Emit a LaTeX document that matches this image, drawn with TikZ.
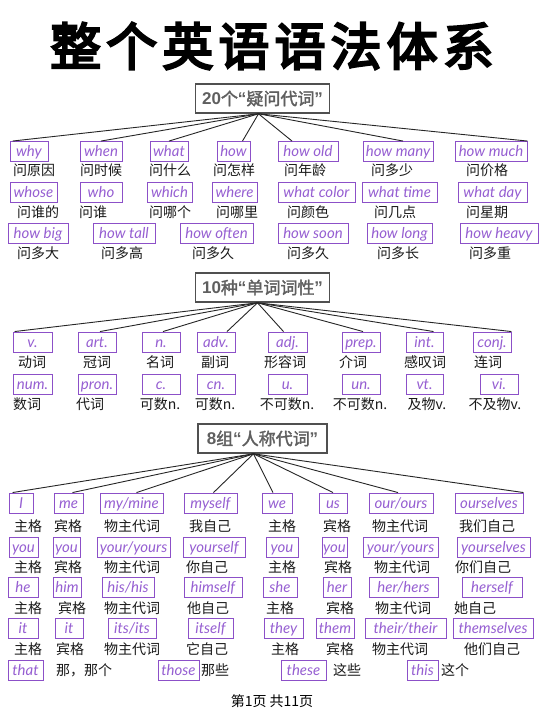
\documentclass[tikz,border=0pt]{standalone}
\usepackage{fontspec}
\newfontfamily\cjk{Noto Sans CJK SC}
\newfontfamily\cjkbold[FakeBold=4.5,LetterSpace=10]{Noto Sans CJK SC}
\newfontfamily\cjkmid[FakeBold=2]{Noto Sans CJK SC}
\newfontfamily\en{Lato}
\newfontfamily\latb{Liberation Sans}
\definecolor{boxpurple}{RGB}{140,80,200}
\definecolor{txtpurple}{RGB}{150,95,210}
\definecolor{secgray}{RGB}{80,80,80}
\definecolor{sectext}{RGB}{95,95,95}
\tikzset{
  wb/.style={draw=boxpurple, line width=0.9pt, text=txtpurple, font=\en\itshape\fontsize{15}{15}\selectfont, minimum height=20pt, inner sep=0pt, text height=11pt, text depth=1pt},
  lb/.style={font=\cjk\fontsize{14}{14}\selectfont, text=black!90, inner sep=0pt},
  sec/.style={draw=secgray, line width=1.6pt, fill=white, text=sectext, font=\cjkmid\fontsize{17}{17}\selectfont, minimum height=29pt, minimum width=134pt, inner sep=0pt},
  conn/.style={line width=0.9pt, draw=black!85},
}
\newcommand\wbx[5]{\node[wb, minimum width={#3-#2}] (#1) at ({(#2+#3)/2},#4) {#5};}
\newcommand\lbx[4]{\node[lb] (#1) at (#2,#3) {#4};}
\newcommand\myLQ{{\latb\bfseries “}}
\newcommand\myRQ{{\latb\bfseries ”}}
\begin{document}
\begin{tikzpicture}[x=1pt,y=-1pt]
\useasboundingbox[fill=white] (0,0) rectangle (540,719);
% title
\node[font=\cjkbold\fontsize{51}{51}\selectfont, inner sep=0pt] (title) at (272,46) {整个英语语法体系};

% ---------- section 1 ----------
\node[sec] (s1) at (262.5,98.5) {{\latb\bfseries 20}个\myLQ 疑问代词\myRQ};
\coordinate (h1) at ([xshift=-4pt]s1.south);
\wbx{why}{10}{48}{151.5}{why}
\wbx{when}{80}{122}{151.5}{when}
\wbx{what}{150}{188}{151.5}{what}
\wbx{how}{217}{250}{151.5}{how}
\wbx{howold}{278}{338}{151.5}{how old}
\wbx{howmany}{363}{433}{151.5}{how many}
\wbx{howmuch}{455}{527}{151.5}{how much}
\lbx{a1}{34}{170}{问原因}
\lbx{a2}{101}{170}{问时候}
\lbx{a3}{170}{170}{问什么}
\lbx{a4}{234}{170}{问怎样}
\lbx{a5}{305}{170}{问年龄}
\lbx{a6}{392}{170}{问多少}
\lbx{a7}{487}{170}{问价格}
\wbx{whose}{10}{57}{192}{whose}
\wbx{who}{80}{122}{192}{who}
\wbx{which}{147}{192}{192}{which}
\wbx{where}{212}{257}{192}{where}
\wbx{whatcolor}{278}{355}{192}{what color}
\wbx{whattime}{362}{437}{192}{what time}
\wbx{whatday}{458}{527}{192}{what day}
\lbx{b1}{38}{212}{问谁的}
\lbx{b2}{93}{212}{问谁}
\lbx{b3}{170}{212}{问哪个}
\lbx{b4}{237}{212}{问哪里}
\lbx{b5}{308}{212}{问颜色}
\lbx{b6}{395}{212}{问几点}
\lbx{b7}{487}{212}{问星期}
\wbx{howbig}{8}{68}{233}{how big}
\wbx{howtall}{93}{155}{233}{how tall}
\wbx{howoften}{180}{253}{233}{how often}
\wbx{howsoon}{278}{348}{233}{how soon}
\wbx{howlong}{367}{432}{233}{how long}
\wbx{howheavy}{460}{538}{233}{how heavy}
\lbx{c1}{38}{253}{问多大}
\lbx{c2}{122}{253}{问多高}
\lbx{c3}{213}{253}{问多久}
\lbx{c4}{308}{253}{问多久}
\lbx{c5}{398}{253}{问多长}
\lbx{c6}{490}{253}{问多重}
\draw[conn] (h1) -- ([xshift=3pt]why.north west);
\draw[conn] (h1) -- (when.north);
\draw[conn] (h1) -- (what.north);
\draw[conn] (h1) -- ([xshift=9pt]how.north);
\draw[conn] (h1) -- ([xshift=-16pt]howold.north);
\draw[conn] (h1) -- ([xshift=5pt]howmany.north);
\draw[conn] (h1) -- (howmuch.north east);

% ---------- section 2 ----------
\node[sec] (s2) at (262.5,287.5) {{\latb\bfseries 10}种\myLQ 单词词性\myRQ};
\coordinate (h2) at ([xshift=-5pt]s2.south);
\wbx{v}{13}{52}{342}{v.}
\wbx{art}{78}{116}{342}{art.}
\wbx{n}{142}{180}{342}{n.}
\wbx{adv}{197}{235}{342}{adv.}
\wbx{adj}{268}{307}{342}{adj.}
\wbx{prep}{342}{380}{342}{prep.}
\wbx{int}{406}{443}{342}{int.}
\wbx{conj}{473}{511}{342}{conj.}
\lbx{d1}{32}{362}{动词}
\lbx{d2}{97}{362}{冠词}
\lbx{d3}{160}{362}{名词}
\lbx{d4}{215}{362}{副词}
\lbx{d5}{285}{362}{形容词}
\lbx{d6}{353}{362}{介词}
\lbx{d7}{425}{362}{感叹词}
\lbx{d8}{488}{362}{连词}
\wbx{num}{13}{52}{384}{num.}
\wbx{pron}{78}{116}{384}{pron.}
\wbx{cc}{142}{180}{384}{c.}
\wbx{cn}{197}{235}{384}{cn.}
\wbx{uu}{268}{307}{384}{u.}
\wbx{un}{342}{380}{384}{un.}
\wbx{vt}{406}{443}{384}{vt.}
\wbx{vi}{480}{518}{384}{vi.}
\lbx{e1}{27}{404}{数词}
\lbx{e2}{90}{404}{代词}
\lbx{e3}{160}{404}{可数n.}
\lbx{e4}{215}{404}{可数n.}
\lbx{e5}{287}{404}{不可数n.}
\lbx{e6}{360}{404}{不可数n.}
\lbx{e7}{427}{404}{及物v.}
\lbx{e8}{495}{404}{不及物v.}
\draw[conn] (h2) -- ([xshift=2pt]v.north west);
\draw[conn] (h2) -- ([xshift=3pt]art.north);
\draw[conn] (h2) -- ([xshift=2pt]n.north);
\draw[conn] (h2) -- ([xshift=11pt]adv.north);
\draw[conn] (h2) -- ([xshift=-4pt]adj.north);
\draw[conn] (h2) -- ([xshift=2pt]prep.north);
\draw[conn] (h2) -- ([xshift=9pt]int.north);
\draw[conn] (h2) -- (conj.north east);

% ---------- section 3 ----------
\node[sec, minimum width=129pt] (s3) at (262.5,438.5) {{\latb\bfseries 8}组\myLQ 人称代词\myRQ};
\coordinate (h3) at ([xshift=-9pt]s3.south);
\wbx{pI}{9}{33}{503}{I}
\wbx{pme}{54}{83}{503}{me}
\wbx{pmy}{100}{163}{503}{my/mine}
\wbx{pmyself}{184}{237}{503}{myself}
\wbx{pwe}{262}{292}{503}{we}
\wbx{pus}{319}{347}{503}{us}
\wbx{pour}{369}{433}{503}{our/ours}
\wbx{pourselves}{455}{523}{503}{ourselves}
\lbx{f1}{28}{526}{主格}
\lbx{f2}{68}{526}{宾格}
\lbx{f3}{132}{526}{物主代词}
\lbx{f4}{210}{526}{我自己}
\lbx{f5}{282}{526}{主格}
\lbx{f6}{337}{526}{宾格}
\lbx{f7}{400}{526}{物主代词}
\lbx{f8}{487}{526}{我们自己}
\wbx{pyou}{9}{38}{547.5}{you}
\wbx{pyoub}{53}{80}{547.5}{you}
\wbx{pyour}{97}{170}{547.5}{your/yours}
\wbx{pyourself}{183}{245}{547.5}{yourself}
\wbx{pyouc}{266}{298}{547.5}{you}
\wbx{pyoud}{322}{347}{547.5}{you}
\wbx{pyourb}{363}{438}{547.5}{your/yours}
\wbx{pyourselves}{457}{530}{547.5}{yourselves}
\lbx{g1}{28}{567}{主格}
\lbx{g2}{68}{567}{宾格}
\lbx{g3}{132}{567}{物主代词}
\lbx{g4}{207}{567}{你自己}
\lbx{g5}{282}{567}{主格}
\lbx{g6}{338}{567}{宾格}
\lbx{g7}{402}{567}{物主代词}
\lbx{g8}{483}{567}{你们自己}
\wbx{phe}{8}{38}{587}{he}
\wbx{phim}{53}{81}{587}{him}
\wbx{phis}{102}{154}{587}{his/his}
\wbx{phimself}{184}{242}{587}{himself}
\wbx{pshe}{263}{297}{587}{she}
\wbx{pher}{323}{351}{587}{her}
\wbx{phers}{369}{438}{587}{her/hers}
\wbx{pherself}{462}{522}{587}{herself}
\lbx{k1}{28}{608}{主格}
\lbx{k2}{72}{608}{宾格}
\lbx{k3}{132}{608}{物主代词}
\lbx{k4}{208}{608}{他自己}
\lbx{k5}{280}{608}{主格}
\lbx{k6}{340}{608}{宾格}
\lbx{k7}{403}{608}{物主代词}
\lbx{k8}{475}{608}{她自己}
\wbx{pit}{8}{38}{628}{it}
\wbx{pitb}{55}{83}{628}{it}
\wbx{pits}{108}{156}{628}{its/its}
\wbx{pitself}{188}{233}{628}{itself}
\wbx{pthey}{264}{303}{628}{they}
\wbx{pthem}{316}{354}{628}{them}
\wbx{ptheir}{365}{446}{628}{their/their}
\wbx{pthemselves}{453}{533}{628}{themselves}
\lbx{m1}{28}{649}{主格}
\lbx{m2}{70}{649}{宾格}
\lbx{m3}{132}{649}{物主代词}
\lbx{m4}{207}{649}{它自己}
\lbx{m5}{285}{649}{主格}
\lbx{m6}{340}{649}{宾格}
\lbx{m7}{400}{649}{物主代词}
\lbx{m8}{492}{649}{他们自己}
\wbx{pthat}{8}{43}{670}{that}
\lbx{n1}{84}{670}{那，那个}
\wbx{pthose}{158}{199}{670}{those}
\lbx{n2}{215}{670}{那些}
\wbx{pthese}{281}{326}{670}{these}
\lbx{n3}{347}{670}{这些}
\wbx{pthis}{407}{438}{670}{this}
\lbx{n4}{455}{670}{这个}
\draw[conn] (h3) -- ([xshift=4pt]pI.north west);
\draw[conn] (h3) -- ([xshift=4pt]pme.north);
\draw[conn] (h3) -- ([xshift=5pt]pmy.north);
\draw[conn] (h3) -- ([xshift=3pt]pmyself.north);
\draw[conn] (h3) -- ([xshift=-4pt]pwe.north);
\draw[conn] (h3) -- (pus.north);
\draw[conn] (h3) -- ([xshift=-3pt]pour.north);
\draw[conn] (h3) -- (pourselves.north east);

% footer
\node[lb, text=black] (footer) at (272,701) {第1页 共11页};
\end{tikzpicture}
\end{document}
